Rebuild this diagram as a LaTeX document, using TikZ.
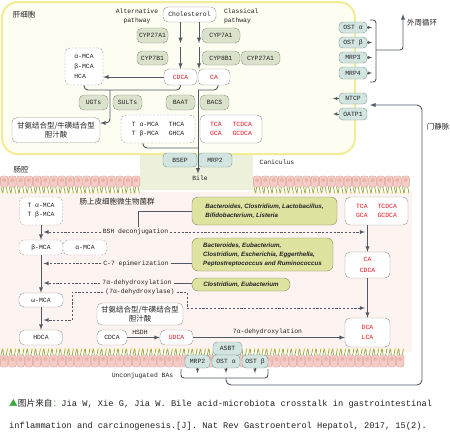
\documentclass[tikz,border=0pt]{standalone}
\usepackage{fontspec}
\usepackage{tikz}
\setmainfont{Liberation Mono}
\newfontfamily\cjk{Noto Sans CJK SC}
\newfontfamily\bugfont{Liberation Sans}

\definecolor{liverline}{RGB}{242,236,150}
\definecolor{liverfill}{RGB}{253,253,242}
\definecolor{canalfill}{RGB}{237,240,218}
\definecolor{gutfill}{RGB}{253,244,241}
\definecolor{cellfill}{RGB}{246,205,198}
\definecolor{cellline}{RGB}{214,160,152}
\definecolor{nucfill}{RGB}{236,180,172}
\definecolor{villigreen}{RGB}{150,168,60}
\definecolor{villiyellow}{RGB}{225,212,95}
\definecolor{enzfill}{RGB}{219,226,203}
\definecolor{enzline}{RGB}{140,150,128}
\definecolor{tpfill}{RGB}{210,229,225}
\definecolor{tpline}{RGB}{125,152,150}
\definecolor{boxline}{RGB}{150,150,150}
\definecolor{arr}{RGB}{80,90,102}
\definecolor{bugfill}{RGB}{222,227,160}
\definecolor{bugline}{RGB}{130,135,95}
\definecolor{bared}{RGB}{230,20,30}
\definecolor{txt}{RGB}{35,35,35}
\definecolor{capgreen}{RGB}{60,170,60}

% one epithelial cell and its microvilli
\newcommand\gutcell[3]{%
  \draw[cellline, fill=cellfill, rounded corners=2pt, line width=0.4pt] (#1+0.4,#2) rectangle ++(7.45,#3);
  \fill[nucfill] (#1+4.1,#2+4) circle (2.1);}
\newcommand\villus[3]{%
  \draw[villigreen, line width=0.7pt] (#1+1,#2) -- ++(1.4,#3) (#1+3.6,#2) -- ++(-0.8,#3) (#1+6.2,#2) -- ++(1.2,#3);
  \fill[villiyellow] (#1+2.4,#2+#3) circle (0.7) (#1+7.4,#2+#3) circle (0.7);}

\begin{document}
\begin{tikzpicture}[x=1pt, y=-1pt,
  lab/.style={text=txt, inner sep=0pt, outer sep=2pt, font=\fontsize{6.4}{9}\selectfont},
  zh/.style={text=txt, inner sep=0pt, font=\cjk\fontsize{7.5}{10}\selectfont},
  enz/.style={draw=enzline, fill=enzfill, rounded corners=5pt, inner sep=0pt, text=txt, font=\fontsize{6.4}{9}\selectfont},
  tp/.style={draw=tpline, fill=tpfill, rounded corners=4pt, inner sep=0pt, text=txt, font=\fontsize{6.4}{9}\selectfont},
  ba/.style={draw=boxline, fill=white, rounded corners=5pt, inner sep=0pt, text=txt, font=\fontsize{6.4}{9}\selectfont},
  dba/.style={ba, dashed, dash pattern=on 2pt off 1.5pt},
  zhbox/.style={ba, align=center, font=\cjk\fontsize{7.5}{9.5}\selectfont},
  bug/.style={draw=bugline, fill=bugfill, rounded corners=6pt, inner sep=0pt, align=left, text=txt, font=\bugfont\bfseries\itshape\fontsize{6.2}{9}\selectfont},
  n/.style={-latex, line width=0.9pt, draw=arr},
  d/.style={-latex, line width=0.8pt, draw=arr, dashed, dash pattern=on 2.2pt off 1.6pt, shorten >=2.5pt},
  ln/.style={line width=0.9pt, draw=arr},
  lk/.style={line width=0.6pt, draw=arr},
  sm/.style={-latex, line width=0.6pt, draw=arr}]
\useasboundingbox (0,0) rectangle (450,432);
\fill[white] (0,0) rectangle (450,432);
% regions
\fill[canalfill] (140,140) rectangle (253,190);
\fill[gutfill] (0,192) rectangle (412,352);
\draw[liverline, line width=2pt, fill=liverfill, rounded corners=16pt] (2,2) rectangle (355,154);
\foreach \x in {0,8.25,...,132} {\gutcell{\x}{176}{11}\villus{\x}{187}{6}}
\foreach \x in {253,261.25,...,402} {\gutcell{\x}{176}{11}\villus{\x}{187}{6}}
\foreach \x in {0,8.25,...,404} {\gutcell{\x}{355}{12}\villus{\x}{355}{-6}}

% liver nodes
\node[zh] (hep) at (24,15) {肝细胞};
\node[lab, align=center] (altp) at (137,16.5) {Alternative\\pathway};
\node[ba, minimum width=53pt, minimum height=15pt] (chol) at (189.5,14.5) {Cholesterol};
\node[lab, align=left, anchor=west] (clsp) at (222,16.5) {Classical\\pathway};
\node[enz, minimum width=31pt, minimum height=15pt] (cyp27a) at (152.5,35.5) {CYP27A1};
\node[enz, minimum width=38pt, minimum height=15pt] (cyp7a) at (221,35.5) {CYP7A1};
\node[enz, minimum width=31pt, minimum height=14pt] (cyp7b) at (152.5,58) {CYP7B1};
\node[enz, minimum width=38pt, minimum height=14pt] (cyp8b) at (221,58) {CYP8B1};
\node[enz, minimum width=39pt, minimum height=14pt] (cyp27b) at (260.5,58) {CYP27A1};
\node[ba, text=bared, minimum width=33pt, minimum height=16pt] (cdca) at (180.5,77) {CDCA};
\node[ba, text=bared, minimum width=32pt, minimum height=16pt] (ca) at (214,77) {CA};
\node[dba, align=left, minimum width=38pt, minimum height=37pt, font=\fontsize{6.4}{10}\selectfont] (mca) at (84,66.5) {α-MCA\\β-MCA\\HCA};
\node[enz, minimum width=29pt, minimum height=15pt] (ugts) at (93.5,102.5) {UGTs};
\node[enz, minimum width=29pt, minimum height=15pt] (sults) at (127.5,102.5) {SULTs};
\node[enz, minimum width=29pt, minimum height=15pt] (baat) at (180.5,102.5) {BAAT};
\node[enz, minimum width=29pt, minimum height=15pt] (bacs) at (214.5,102.5) {BACS};
\node[zhbox, minimum width=88pt, minimum height=25pt] (conjL) at (56,130) {甘氨结合型/牛磺结合型\\胆汁酸};
\node[dba, minimum width=74pt, minimum height=28pt] (tmca) at (158,129) {\begin{tabular}{@{}l@{\hspace{10pt}}l@{}}T α-MCA & THCA\\T β-MCA & GHCA\end{tabular}};
\node[ba, text=bared, minimum width=62pt, minimum height=28pt] (tca) at (231,129) {\begin{tabular}{@{}l@{\hspace{11pt}}l@{}}TCA & TCDCA\\GCA & GCDCA\end{tabular}};
\node[tp, minimum width=34pt, minimum height=14pt] (bsep) at (180,160) {BSEP};
\node[tp, minimum width=34pt, minimum height=14pt] (mrp2a) at (215,160) {MRP2};
\node[lab] (bile) at (200,178) {Bile};
\node[lab] (canic) at (277,162) {Caniculus};
\node[tp, minimum width=28pt, minimum height=11pt] (osta) at (353,27.5) {OST α};
\node[tp, minimum width=28pt, minimum height=11pt] (ostb) at (353,42.5) {OST β};
\node[tp, minimum width=28pt, minimum height=11pt] (mrp3) at (353,57.5) {MRP3};
\node[tp, minimum width=28pt, minimum height=12pt] (mrp4) at (353,73) {MRP4};
\node[tp, minimum width=28pt, minimum height=11pt] (ntcp) at (353,98.5) {NTCP};
\node[tp, minimum width=28pt, minimum height=12pt] (oatp1) at (353,114) {OATP1};
\node[zh] (periph) at (422,23) {外周循环};
\node[zh] (portal) at (438,127) {门静脉};

% gut nodes
\node[zh] (lumen) at (21,170) {肠腔};
\node[zh] (flora) at (117,202) {肠上皮细胞微生物菌群};
\node[dba, align=left, minimum width=43pt, minimum height=28pt] (tmcaI) at (41,211) {T α-MCA\\T β-MCA};
\node[dba, minimum width=44pt, minimum height=15pt] (bmca) at (41,247.5) {β-MCA};
\node[dba, minimum width=44pt, minimum height=15pt] (amca) at (85,247.5) {α-MCA};
\node[ba, minimum width=44pt, minimum height=14pt] (omca) at (41,300) {ω-MCA};
\node[ba, minimum width=43pt, minimum height=15pt] (hdca) at (41,337.5) {HDCA};
\node[zhbox, minimum width=86pt, minimum height=22pt] (conjI) at (140,314) {甘氨结合型/牛磺结合型\\胆汁酸};
\node[ba, minimum width=30pt, minimum height=15pt] (cdcaI) at (112,337.5) {CDCA};
\node[ba, text=bared, minimum width=33pt, minimum height=15pt] (udca) at (176.5,337.5) {UDCA};
\node[ba, text=bared, minimum width=63pt, minimum height=28pt] (tcaI) at (376.5,211) {\begin{tabular}{@{}l@{\hspace{10pt}}l@{}}TCA & TCDCA\\GCA & GCDCA\end{tabular}};
\node[ba, text=bared, align=center, minimum width=45pt, minimum height=26pt, font=\fontsize{6.4}{10.5}\selectfont] (caI) at (367.5,265) {CA\\CDCA};
\node[ba, text=bared, align=center, minimum width=45pt, minimum height=29pt, font=\fontsize{6.4}{10.5}\selectfont] (dca) at (367.5,332.5) {DCA\\LCA};
\node[bug, minimum width=145pt, minimum height=28pt] (bug1) at (264.5,211) {Bacteroides, Clostridium, Lactobacillus,\\Bifidobacterium, Listeria};
\node[bug, minimum width=141pt, minimum height=33pt] (bug2) at (262.5,254.5) {Bacteroides, Eubacterium,\\Clostridium, Escherichia, Eggerthella,\\Peptostreptococcus and Ruminococcus};
\node[bug, minimum width=98pt, minimum height=13pt] (bug3) at (241,284.5) {Clostridium, Eubacterium};
\node[lab] (bsh) at (135.5,232) {BSH deconjugation};
\node[lab] (c7) at (136,263.5) {C-7 epimerization};
\node[lab] (dh) at (137,283) {7α-dehydroxylation};
\node[lab] (dhase) at (140,292) {(7α-dehydroxylase)};
\node[lab] (hsdh) at (140,332) {HSDH};
\node[lab] (dh2) at (267.5,332) {7α-dehydroxylation};
\node[tp, minimum width=29pt, minimum height=13pt] (asbt) at (227.5,348.5) {ASBT};
\node[tp, minimum width=25pt, minimum height=13pt] (mrp2b) at (197.5,361.5) {MRP2};
\node[tp, minimum width=28pt, minimum height=13pt] (ostaB) at (226,361.5) {OST α};
\node[tp, minimum width=26pt, minimum height=13pt] (ostbB) at (255,361.5) {OST β};
\node[lab] (unconj) at (142.5,376) {Unconjugated BAs};

% caption
\node[anchor=west, inner sep=0pt, text=txt, font=\fontsize{8.7}{10}\selectfont] (cap1) at (9,404) {{\cjk\textcolor{capgreen}{▲}图片来自\textcolor{capgreen}{：}}Jia W, Xie G, Jia W. Bile acid-microbiota crosstalk in gastrointestinal};
\node[anchor=west, inner sep=0pt, text=txt, font=\fontsize{8.7}{10}\selectfont] (cap2) at (9,426) {inflammation and carcinogenesis.[J]. Nat Rev Gastroenterol Hepatol, 2017, 15(2).};

% coordinates
\coordinate (g1) at (180.5,47);
\coordinate (g2) at (199,47);
\coordinate (j1) at (110,90);
\coordinate (j2) at (198,90);
\coordinate (j3) at (198,148);
\coordinate (k4) at (143,143);
\coordinate (c1) at ([yshift=7pt]conjL.east);
\coordinate (bt) at (370,20);
\coordinate (bm) at (376,50);
\coordinate (bb) at (370,82);
\coordinate (bo) at (403,14);
\coordinate (ubl) at (181,369);
\coordinate (ub) at (226,378);
\coordinate (ubr) at (268,369);
\coordinate (pv) at (422,385);
\coordinate (pin) at (370,105);
\coordinate (b1) at ([xshift=2.5pt]bsh.north);
\coordinate (k1) at (72,320);
\coordinate (k2) at (187,308);

% liver edges
\draw[n] (chol.south -| g1) -- (cyp27a.south -| g1);
\draw[n] (g1) -- (cdca.north);
\draw[n] (chol.south -| g2) -- (cyp7a.south -| g2);
\draw[n] (g2) -- (g2 |- ca.north);
\draw[n] (cdca.west) -- (mca.east |- cdca.west);
\draw[ln, rounded corners=4pt] (mca.south) |- (j1) -| (cdca.south);
\draw[ln, rounded corners=4pt] ([xshift=4pt]ca.south) |- (j2);
\draw[n, rounded corners=4pt] (j1) |- (c1);
\draw[ln, rounded corners=4pt] (k4) |- (j3);
\draw[n] (j2) -- (j2 |- bile.north);
\foreach \t in {osta,ostb,mrp3,mrp4} \draw[sm] (\t.east) -- ++(5,0);
\foreach \t in {ntcp,oatp1} \draw[sm] (\t.west) -- ++(-6,0);
\draw[ln, rounded corners=3pt] (bt) -| (bm) |- (bb);
\draw[n, rounded corners=3pt] (bm) -| (bo);

% gut edges
\draw[n] (tmcaI.south) -- (bmca.north);
\draw[n] (bmca.south) -- (omca.north);
\draw[n] (omca.south) -- (hdca.north);
\draw[d] (bsh.west) -- (bsh.west -| tmcaI.south);
\draw[d] (bsh.east) -- (bsh.east -| caI.north);
\draw[d] (c7.west) -- (c7.west -| bmca.south);
\draw[d] (dh.west) -- (dh.west -| bmca.south);
\draw[d] (dhase.west) -| (k1) -- (k1 -| omca.south);
\draw[d] (dhase.east) -| (k2) -- (k2 -| dca.north);
\draw[lk] (bug1.west) -| (b1);
\draw[lk] (c7.east) -- (c7.east -| bug2.west);
\draw[lk] (dh.east) -- (dh.east -| bug3.west);
\draw[n] (cdcaI.east) -- (udca.west);
\draw[n] (udca.east) -- (udca.east -| dca.west);
\draw[n] (caI.north |- tcaI.south) -- (caI.north);
\draw[n] (caI.south) -- (dca.north);
\foreach \t in {mrp2b,ostaB,ostbB} \draw[sm] (\t.south) -- ++(0,5);
\draw[ln, rounded corners=3pt] (ubl) |- (ub) -| (ubr);
\draw[n, rounded corners=5pt] (ub) |- (pv) |- (pin);
\end{tikzpicture}
\end{document}
